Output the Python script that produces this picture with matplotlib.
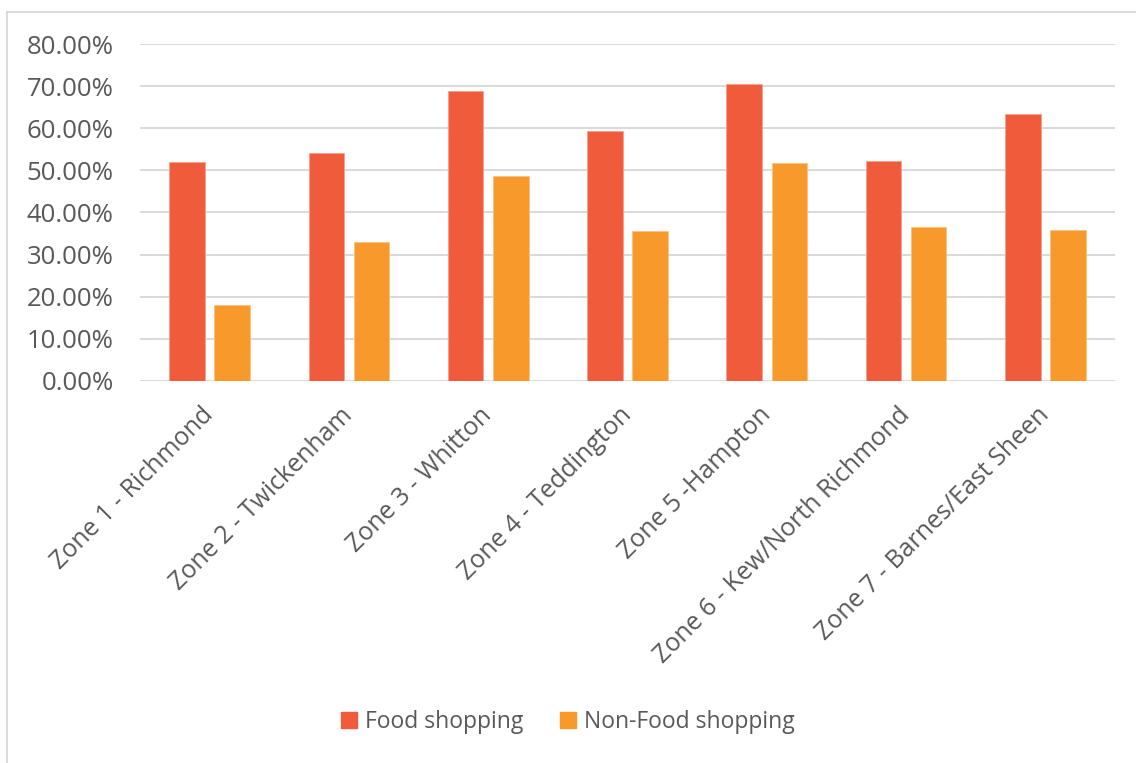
import matplotlib.pyplot as plt
import numpy as np
from matplotlib.lines import Line2D
from matplotlib.patches import Patch
from matplotlib.ticker import PercentFormatter

zones = [
    "Zone 1 - Richmond",
    "Zone 2 - Twickenham",
    "Zone 3 - Whitton",
    "Zone 4 - Teddington",
    "Zone 5 -Hampton",
    "Zone 6 - Kew/North Richmond",
    "Zone 7 - Barnes/East Sheen",
]
food = [52.0, 54.2, 68.9, 59.4, 70.5, 52.3, 63.3]
non_food = [18.0, 33.1, 48.7, 35.7, 51.8, 36.6, 35.9]

FOOD_COLOR = "#F05B3B"
NONFOOD_COLOR = "#F89A2B"
TEXT_COLOR = "#595959"
GRID_COLOR = "#D9D9D9"

plt.rcParams["font.family"] = ["Open Sans", "DejaVu Sans"]

fig = plt.figure(figsize=(11.36, 7.63), dpi=100)
ax = fig.add_axes([0.1232, 0.5007, 0.8583, 0.4416])

x = np.arange(len(zones))
w = 0.255
off = 0.162
ax.bar(x - off, food, w, color=FOOD_COLOR, edgecolor="#F7A08C", linewidth=0.6, zorder=3)
ax.bar(x + off, non_food, w, color=NONFOOD_COLOR, edgecolor="#FBC27F", linewidth=0.6, zorder=3)

ax.set_xlim(-0.5, len(zones) - 0.5)
ax.set_ylim(0, 80)
ax.set_yticks(np.arange(0, 81, 10))
ax.yaxis.set_major_formatter(PercentFormatter(decimals=2))
ax.grid(axis="y", color=GRID_COLOR, linewidth=1.4, zorder=0)
for s in ax.spines.values():
    s.set_visible(False)
ax.tick_params(axis="both", length=0, colors=TEXT_COLOR, labelsize=18.5)
ax.tick_params(axis="y", pad=19)

ax.set_xticks(x)
ax.set_xticklabels(zones, rotation=45, ha="right", va="center",
                   rotation_mode="anchor", color=TEXT_COLOR, fontsize=18)
ax.tick_params(axis="x", pad=22)

handles = [Patch(color=FOOD_COLOR), Patch(color=NONFOOD_COLOR)]
fig.legend(handles, ["Food shopping", "Non-Food shopping"], loc="center",
           bbox_to_anchor=(0.5, 1 - 722 / 763), ncol=2, frameon=False,
           handlelength=0.7, handleheight=0.7, handletextpad=0.35,
           columnspacing=1.6, labelcolor=TEXT_COLOR, fontsize=16.5)

# outer chart frame (top and left edges)
fig.add_artist(Line2D([0.0066, 1.0], [0.9843, 0.9843], transform=fig.transFigure,
                      color=GRID_COLOR, linewidth=1.3))
fig.add_artist(Line2D([0.0066, 0.0066], [0.0, 0.9843], transform=fig.transFigure,
                      color=GRID_COLOR, linewidth=1.3))

fig.savefig("out.png", dpi=100, facecolor="white")
